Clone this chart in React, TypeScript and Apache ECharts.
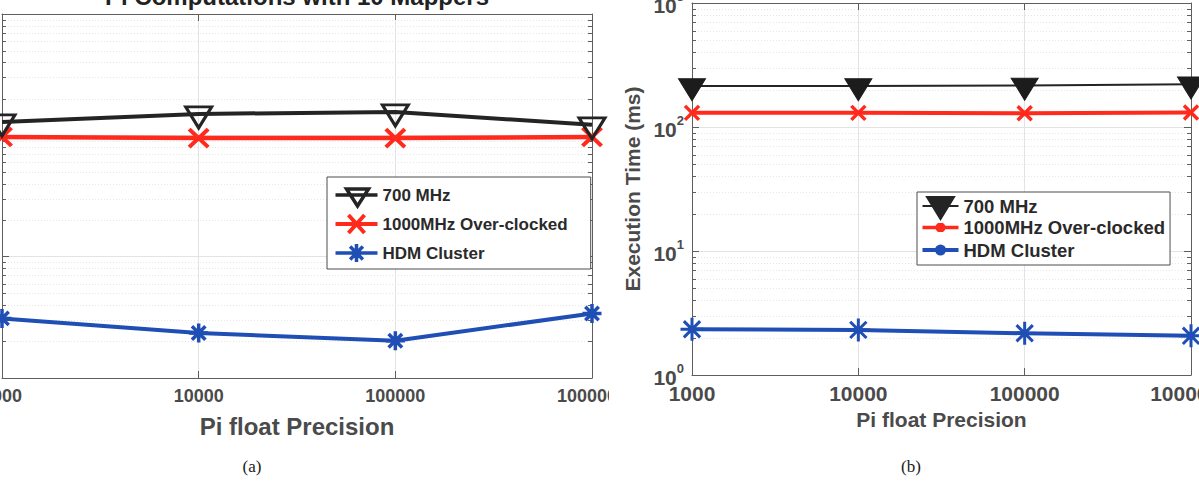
import React, { useEffect, useRef } from 'react';
import * as echarts from 'echarts';

// ---------- data ----------
const precisionLabels = ['1000', '10000', '100000', '1000000'];
const seriesNames = ['700 MHz', '1000MHz Over-clocked', 'HDM Cluster'];

// (a) Pi Computations with 10 Mappers
const a700 = [129, 150, 156, 122];
const a1000 = [97, 95, 95, 97];
const aHdm = [3.1, 2.35, 2.03, 3.4];

// (b)
const b700 = [214, 214, 216, 221];
const b1000 = [130, 130, 129, 131];
const bHdm = [2.34, 2.31, 2.17, 2.07];

// log-axis decoration (minor tick positions)
const minorTickValues = [2, 3, 4, 5, 6, 7, 8, 9, 20, 30, 40, 50, 60, 70, 80, 90, 200, 300, 400, 500, 600, 700, 800, 900];
const yMin = 1;
const yMax = 1000;

// ---------- styles ----------
const FONT = '"Liberation Sans", Arial, Helvetica, sans-serif';
const SERIF = '"Liberation Serif", "Times New Roman", serif';
const AXIS = '#5e5e5e';
const LABEL = '#4a4a4a';
const GRID = '#e3e3e3';
const MINOR = '#e6e6e6';
const BLACK = '#242424';
const RED = '#ff2a1c';
const BLUE = '#1f4eb4';

const TRI_DOWN = 'path://M0,0L26,0L13,21Z';
const X_MARK = 'path://M0,0L10,10M10,0L0,10';
const ASTER = 'path://M5,0L5,10M0,5L10,5M1.46,1.46L8.54,8.54M1.46,8.54L8.54,1.46';

function minorSeries() {
  return {
    type: 'custom',
    name: 'minor',
    silent: true,
    z: 1,
    coordinateSystem: 'cartesian2d',
    encode: { x: 0, y: 1 },
    data: minorTickValues.map((v) => [0, v]),
    renderItem: (params: any, api: any) => {
      const y = Math.round(api.coord([0, api.value(1)])[1]) + 0.5;
      const cs = params.coordSys;
      const x0 = cs.x;
      const x1 = cs.x + cs.width;
      return {
        type: 'group',
        children: [
          { type: 'line', shape: { x1: x0, y1: y, x2: x1, y2: y }, style: { stroke: MINOR, lineWidth: 1, lineDash: [1, 2] } },
          { type: 'line', shape: { x1: x0, y1: y, x2: x0 + 4, y2: y }, style: { stroke: AXIS, lineWidth: 1 } },
          { type: 'line', shape: { x1: x1 - 4, y1: y, x2: x1, y2: y }, style: { stroke: AXIS, lineWidth: 1 } },
        ],
      };
    },
  };
}

function lineSeries(
  name: string,
  data: number[],
  symbol: string,
  size: number[],
  offsetY: number,
  lineColor: string,
  lineWidth: number,
  fill: string,
  stroke: string,
  strokeWidth: number,
  z: number
) {
  return {
    type: 'line',
    name,
    data,
    symbol,
    symbolSize: size,
    symbolOffset: [0, offsetY],
    symbolKeepAspect: false,
    showSymbol: true,
    z,
    lineStyle: { color: lineColor, width: lineWidth },
    itemStyle: { color: fill, borderColor: stroke, borderWidth: strokeWidth },
    emphasis: { disabled: true },
  };
}

function buildAxes(o: {
  tickFont: number;
  labelMargin: number;
  nameFont: number;
  xNameGap: number;
  showYLabels: boolean;
  yName?: string;
  yNameGap?: number;
  supFont: number;
}) {
  const tickLine = { show: true, inside: true, length: 7, lineStyle: { color: AXIS, width: 1 } };
  const axisLine = { show: true, onZero: false, lineStyle: { color: AXIS, width: 1 } };
  const xAxis = [
    {
      type: 'category',
      data: precisionLabels,
      boundaryGap: false,
      position: 'bottom',
      axisLine,
      axisTick: tickLine,
      axisLabel: {
        show: true,
        interval: 0,
        margin: o.labelMargin,
        color: LABEL,
        fontFamily: FONT,
        fontWeight: 'bold',
        fontSize: o.tickFont,
      },
      splitLine: { show: true, lineStyle: { color: GRID, width: 1 } },
      name: 'Pi float Precision',
      nameLocation: 'middle',
      nameGap: o.xNameGap,
      nameTextStyle: { color: LABEL, fontFamily: FONT, fontWeight: 'bold', fontSize: o.nameFont },
    },
    {
      type: 'category',
      data: precisionLabels,
      boundaryGap: false,
      position: 'top',
      axisLine,
      axisTick: tickLine,
      axisLabel: { show: false },
      splitLine: { show: false },
    },
  ];
  const yAxis = [
    {
      type: 'log',
      logBase: 10,
      min: yMin,
      max: yMax,
      position: 'left',
      axisLine,
      axisTick: tickLine,
      axisLabel: {
        show: o.showYLabels,
        margin: 8,
        formatter: (v: number) => `{b|10}{s|${Math.round(Math.log10(v))}}`,
        rich: {
          b: { fontFamily: FONT, fontWeight: 'bold', fontSize: o.tickFont, color: LABEL, verticalAlign: 'bottom', lineHeight: 26 },
          s: { fontFamily: FONT, fontWeight: 'bold', fontSize: o.supFont, color: LABEL, verticalAlign: 'top', lineHeight: 16 },
        },
      },
      splitLine: { show: true, lineStyle: { color: GRID, width: 1 } },
      name: o.yName || '',
      nameLocation: 'middle',
      nameGap: o.yNameGap || 40,
      nameTextStyle: { color: LABEL, fontFamily: FONT, fontWeight: 'bold', fontSize: o.nameFont },
    },
    {
      type: 'log',
      logBase: 10,
      min: yMin,
      max: yMax,
      position: 'right',
      axisLine,
      axisTick: tickLine,
      axisLabel: { show: false },
      splitLine: { show: false },
    },
  ];
  return { xAxis, yAxis };
}

function optionA() {
  const axes = buildAxes({ tickFont: 18, labelMargin: 9, nameFont: 24, xNameGap: 36, showYLabels: false, supFont: 12 });
  return {
    animation: false,
    backgroundColor: 'transparent',
    grid: { left: 102, top: 34, width: 590, height: 364, containLabel: false, outerBoundsMode: 'none' },
    ...axes,
    legend: {
      orient: 'vertical',
      left: 427,
      top: 197,
      itemWidth: 42,
      itemHeight: 24,
      itemGap: 0,
      padding: [3.5, 23, 1.5, 6],
      borderColor: '#4d4d4d',
      borderWidth: 1,
      borderRadius: 0,
      backgroundColor: '#ffffff',
      selectedMode: false,
      textStyle: { fontFamily: FONT, fontWeight: 'bold', fontSize: 17, color: '#2a2a2a' },
      data: [
        {
          name: seriesNames[0],
          icon: 'path://M0,0M42,24M0,12L42,12M11,6L33,6L22,23Z',
          itemStyle: { color: 'none', borderColor: BLACK, borderWidth: 3.5 },
        },
        {
          name: seriesNames[1],
          icon: 'path://M0,0M42,24M0,12L42,12M13,3L29,21M29,3L13,21',
          itemStyle: { color: 'none', borderColor: RED, borderWidth: 4 },
        },
        {
          name: seriesNames[2],
          icon: 'path://M0,0M42,24M0,12L42,12M21,3L21,21M14.6,5.6L27.4,18.4M27.4,5.6L14.6,18.4',
          itemStyle: { color: 'none', borderColor: BLUE, borderWidth: 3.5 },
        },
      ],
    },
    graphic: [
      {
        type: 'text',
        x: 397,
        y: 16.5,
        silent: true,
        style: {
          text: 'Pi Computations with 10 Mappers',
          fontFamily: FONT,
          fontWeight: 'bold',
          fontSize: 24,
          fill: '#222222',
          textAlign: 'center',
          textVerticalAlign: 'middle',
        },
      },
      {
        type: 'text',
        x: 352,
        y: 486,
        silent: true,
        style: { text: '(a)', fontFamily: SERIF, fontSize: 17, fill: '#1a1a1a', textAlign: 'center', textVerticalAlign: 'middle' },
      },
    ],
    series: [
      minorSeries(),
      lineSeries(seriesNames[2], aHdm, ASTER, [19, 19], 0, BLUE, 4, BLUE, BLUE, 3.5, 3),
      lineSeries(seriesNames[1], a1000, X_MARK, [19, 18], 0, RED, 4.5, RED, RED, 4, 4),
      lineSeries(seriesNames[0], a700, TRI_DOWN, [26, 21], 3.5, BLACK, 4, 'transparent', BLACK, 3, 5),
    ],
  };
}

function optionB() {
  const axes = buildAxes({
    tickFont: 21,
    labelMargin: 8,
    nameFont: 21,
    xNameGap: 32,
    showYLabels: true,
    yName: 'Execution Time (ms)',
    yNameGap: 42,
    supFont: 13,
  });
  return {
    animation: false,
    backgroundColor: 'transparent',
    grid: { left: 83, top: 23, width: 499, height: 372, containLabel: false, outerBoundsMode: 'none' },
    ...axes,
    legend: {
      orient: 'vertical',
      left: 308,
      top: 212,
      itemWidth: 36,
      itemHeight: 26,
      itemGap: -8,
      padding: [0, 5, 0, 3],
      borderColor: '#4d4d4d',
      borderWidth: 1,
      borderRadius: 0,
      backgroundColor: '#ffffff',
      selectedMode: false,
      textStyle: { fontFamily: FONT, fontWeight: 'bold', fontSize: 18.5, color: '#2a2a2a' },
      data: [
        {
          name: seriesNames[0],
          icon: 'path://M0,0M36,26M0,13L36,13M4.5,4L31.5,4L18,26Z',
          itemStyle: { color: BLACK, borderColor: BLACK, borderWidth: 2 },
        },
        {
          name: seriesNames[1],
          icon: 'path://M0,0M36,26M0,13L36,13M14.5,9.5L21.5,16.5M21.5,9.5L14.5,16.5M18,8.5L18,17.5',
          itemStyle: { color: 'none', borderColor: RED, borderWidth: 3.5 },
        },
        {
          name: seriesNames[2],
          icon: 'path://M0,0M36,26M0,13L36,13M14.5,13A3.5,3.5,0,1,0,21.5,13A3.5,3.5,0,1,0,14.5,13Z',
          itemStyle: { color: BLUE, borderColor: BLUE, borderWidth: 4 },
        },
      ],
    },
    graphic: [
      {
        type: 'text',
        x: 302,
        y: 486,
        silent: true,
        style: { text: '(b)', fontFamily: SERIF, fontSize: 17, fill: '#1a1a1a', textAlign: 'center', textVerticalAlign: 'middle' },
      },
    ],
    series: [
      minorSeries(),
      lineSeries(seriesNames[2], bHdm, ASTER, [23, 23], 0, BLUE, 4, BLUE, BLUE, 3, 3),
      lineSeries(seriesNames[1], b1000, X_MARK, [14, 14], 0, RED, 4, RED, RED, 3.5, 4),
      lineSeries(seriesNames[0], b700, 'path://M0,0L27,0L13.5,22Z', [27, 22], 3.7, BLACK, 2, '#1c1c1c', '#1c1c1c', 1, 5),
    ],
  };
}

export default function App() {
  const refA = useRef<HTMLDivElement>(null);
  const refB = useRef<HTMLDivElement>(null);

  useEffect(() => {
    const ca = echarts.init(refA.current as HTMLDivElement, null, { renderer: 'svg' });
    ca.setOption(optionA() as any);
    const cb = echarts.init(refB.current as HTMLDivElement, null, { renderer: 'svg' });
    cb.setOption(optionB() as any);
    return () => {
      ca.dispose();
      cb.dispose();
    };
  }, []);

  return (
    <div style={{ position: 'fixed', left: 0, top: 0, width: 1199, height: 486, background: '#ffffff', overflow: 'hidden' }}>
      <div style={{ position: 'absolute', left: 0, top: 0, width: 609, height: 486, overflow: 'hidden' }}>
        <div ref={refA} style={{ position: 'absolute', left: -100, top: -20, width: 800, height: 506 }} />
      </div>
      <div style={{ position: 'absolute', left: 609, top: 0, width: 590, height: 486, overflow: 'hidden' }}>
        <div ref={refB} style={{ position: 'absolute', left: 0, top: -20, width: 640, height: 506 }} />
      </div>
    </div>
  );
}
